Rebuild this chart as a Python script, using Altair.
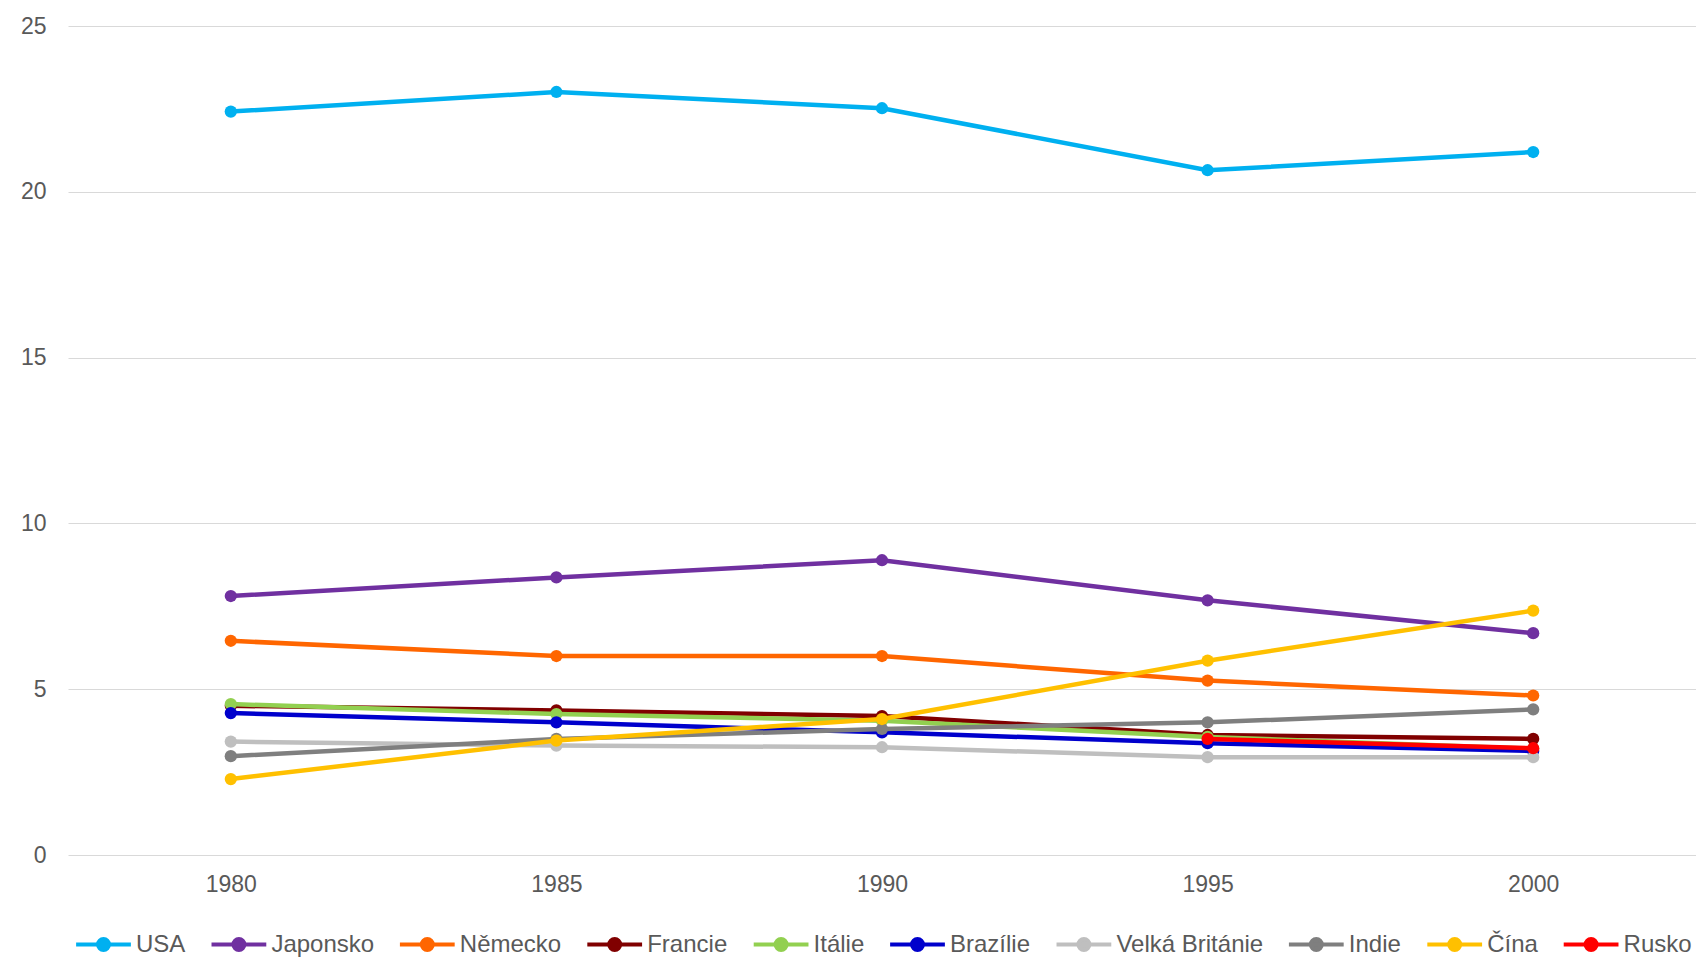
import altair as alt
import pandas as pd

years = ["1980", "1985", "1990", "1995", "2000"]
countries = ["USA", "Japonsko", "Německo", "Francie", "Itálie", "Brazílie",
             "Velká Británie", "Indie", "Čína", "Rusko"]
colors = ["#00B0F0", "#7030A0", "#FF6600", "#800000", "#92D050", "#0000CC",
          "#BFBFBF", "#7F7F7F", "#FFC000", "#FF0000"]

usa = [22.42, 23.01, 22.52, 20.65, 21.2]
japonsko = [7.81, 8.37, 8.89, 7.68, 6.69]
nemecko = [6.46, 6.0, 6.0, 5.26, 4.81]
francie = [4.5, 4.36, 4.19, 3.62, 3.5]
italie = [4.55, 4.25, 4.05, 3.56, 3.2]
brazilie = [4.28, 4.0, 3.7, 3.37, 3.14]
velka_britanie = [3.42, 3.3, 3.25, 2.95, 2.95]
indie = [2.98, 3.5, 3.8, 4.0, 4.39]
cina = [2.29, 3.45, 4.1, 5.86, 7.37]
rusko = [None, None, None, 3.5, 3.22]

series = [usa, japonsko, nemecko, francie, italie, brazilie,
          velka_britanie, indie, cina, rusko]

rows = []
for name, vals in zip(countries, series):
    for y, v in zip(years, vals):
        if v is not None:
            rows.append({"Země": name, "Rok": y, "Hodnota": v})
df = pd.DataFrame(rows)

FONT = "Liberation Sans"
TXT = "#595959"

color_scale = alt.Scale(domain=countries, range=colors)
x_enc = alt.X("Rok:N", sort=years, scale=alt.Scale(domain=years, padding=0.5),
              axis=alt.Axis(title=None, labelAngle=0, ticks=False, domain=False,
                            labelPadding=18, labelFontSize=23, labelColor=TXT,
                            labelFont=FONT, grid=False))
y_enc = alt.Y("Hodnota:Q", scale=alt.Scale(domain=[0, 25], nice=False, zero=True),
              axis=alt.Axis(title=None, values=[0, 5, 10, 15, 20, 25], ticks=False,
                            domain=False, labelPadding=22, labelFontSize=23,
                            labelColor=TXT, labelFont=FONT, grid=True,
                            gridColor="#D9D9D9", gridWidth=1.2,
                            minExtent=60, maxExtent=60))

legend_path = ("M-1,0L1,0M-0.2,0A0.2,0.2,0,1,1,0.2,0"
               "A0.2,0.2,0,1,1,-0.2,0Z")

layers = []
for i, name in enumerate(countries):
    base = alt.Chart(df).transform_filter(alt.datum["Země"] == name)
    col = alt.Color("Země:N", scale=color_scale, sort=countries,
                    legend=alt.Legend(title=None, orient="none", direction="horizontal",
                                      columns=10, legendX=6, legendY=889,
                                      symbolType=legend_path, symbolSize=3000,
                                      symbolStrokeWidth=4, labelFontSize=24,
                                      labelFont=FONT, labelColor=TXT,
                                      labelOffset=3, columnPadding=17.4,
                                      symbolOpacity=1) if i == 0 else None)
    line = base.mark_line(strokeWidth=4.5, strokeCap="round").encode(
        x=x_enc, y=y_enc, color=col)
    pts = base.mark_point(filled=True, size=150, opacity=1).encode(
        x=x_enc, y=y_enc, color=alt.Color("Země:N", scale=color_scale, legend=None))
    layers += [line, pts]

chart = alt.layer(*layers).properties(
    width=1628, height=829,
    padding={"left": 0, "top": 7, "right": 0, "bottom": 0},
    background="white",
).configure_view(stroke=None)

chart.save("out.html", embed_options={"renderer": "svg", "actions": False})
